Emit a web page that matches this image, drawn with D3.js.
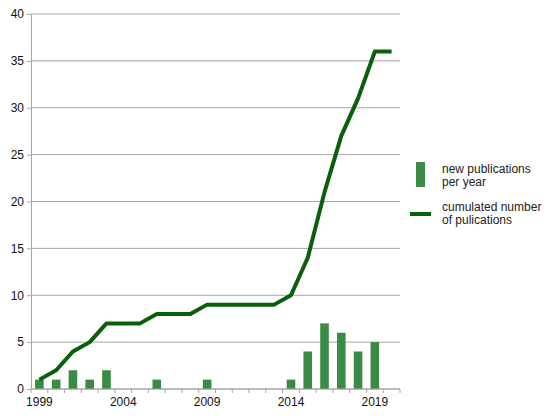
<!DOCTYPE html>
<html>
<head>
<meta charset="utf-8">
<script src="https://cdn.jsdelivr.net/npm/d3@7"></script>
<style>
  body { margin: 0; background: #fff; }
  text { font-family: "Liberation Sans", Arial, sans-serif; }
</style>
</head>
<body>
<div id="chart"></div>
<script>
const years = [1999, 2000, 2001, 2002, 2003, 2004, 2005, 2006, 2007, 2008, 2009,
  2010, 2011, 2012, 2013, 2014, 2015, 2016, 2017, 2018, 2019, 2020];
const newPerYear = [1, 1, 2, 1, 2, 0, 0, 1, 0, 0, 1, 0, 0, 0, 0, 1, 4, 7, 6, 4, 5, 0];
const cumulated = [1, 2, 4, 5, 7, 7, 7, 8, 8, 8, 9, 9, 9, 9, 9, 10, 14, 21, 27, 31, 36, 36];
const yTicks = [0, 5, 10, 15, 20, 25, 30, 35, 40];
const xLabels = [1999, 2004, 2009, 2014, 2019];
const legendLabels = [["new publications", "per year"], ["cumulated number", "of pulications"]];

const width = 550;
const height = 420;
const margin = { top: 14, right: 150, bottom: 31, left: 31 };

const svg = d3.select("#chart")
  .append("svg")
  .attr("width", width)
  .attr("height", height);

const x = d3.scaleBand()
  .domain(years)
  .range([margin.left, width - margin.right])
  .paddingInner(0.5)
  .paddingOuter(0.25);

const y = d3.scaleLinear()
  .domain([0, 40])
  .range([height - margin.bottom, margin.top]);

const step = x.step();
const bandStart = (d) => margin.left + years.indexOf(d) * step;
const center = (d) => bandStart(d) + step / 2;

// gridlines
svg.append("g")
  .selectAll("line")
  .data(yTicks)
  .enter()
  .append("line")
  .attr("x1", margin.left)
  .attr("x2", width - margin.right)
  .attr("y1", (d) => y(d))
  .attr("y2", (d) => y(d))
  .attr("stroke", "#a6a6a6")
  .attr("stroke-width", 1);

// y axis
const yAxis = svg.append("g")
  .attr("transform", `translate(${margin.left},0)`)
  .call(d3.axisLeft(y).tickValues(yTicks).tickSize(4).tickPadding(3));
yAxis.select(".domain").attr("stroke", "#a6a6a6");
yAxis.selectAll(".tick line").attr("stroke", "#a6a6a6");
yAxis.selectAll(".tick text")
  .attr("font-size", 12)
  .attr("fill", "#111")
  .style("font-family", "Liberation Sans, Arial, sans-serif");

// bars
svg.append("g")
  .selectAll("rect")
  .data(years.map((d, i) => ({ year: d, value: newPerYear[i] })).filter((d) => d.value > 0))
  .enter()
  .append("rect")
  .attr("fill", "#3b8a46")
  .attr("x", (d) => center(d.year) - 4.3)
  .attr("y", (d) => y(d.value))
  .attr("width", 8.6)
  .attr("height", (d) => y(0) - y(d.value));

// x axis
const xAxisG = svg.append("g");
xAxisG.append("line")
  .attr("x1", margin.left)
  .attr("x2", width - margin.right)
  .attr("y1", y(0))
  .attr("y2", y(0))
  .attr("stroke", "#a6a6a6");
xAxisG.selectAll(".xt")
  .data(years.concat([years[years.length - 1] + 1]))
  .enter()
  .append("line")
  .attr("x1", (d, i) => margin.left + i * step)
  .attr("x2", (d, i) => margin.left + i * step)
  .attr("y1", y(0))
  .attr("y2", y(0) + 4)
  .attr("stroke", "#a6a6a6");
xAxisG.selectAll("text")
  .data(xLabels)
  .enter()
  .append("text")
  .attr("x", (d) => center(d))
  .attr("y", y(0) + 17)
  .attr("text-anchor", "middle")
  .attr("font-size", 12)
  .attr("fill", "#111")
  .text((d) => d);

// cumulated line
const line = d3.line()
  .x((d, i) => center(years[i]))
  .y((d) => y(d));

svg.append("path")
  .datum(cumulated)
  .attr("fill", "none")
  .attr("stroke", "#0a5f0a")
  .attr("stroke-width", 4)
  .attr("stroke-linejoin", "round")
  .attr("d", line);

// legend
const legend = svg.append("g");
legend.append("rect")
  .attr("x", 416)
  .attr("y", 162)
  .attr("width", 9)
  .attr("height", 25)
  .attr("fill", "#3b8a46");
legend.append("line")
  .attr("x1", 410)
  .attr("x2", 431)
  .attr("y1", 214)
  .attr("y2", 214)
  .attr("stroke", "#0a5f0a")
  .attr("stroke-width", 4);

const legendY = [174, 212];
legendLabels.forEach((lines, k) => {
  lines.forEach((t, j) => {
    legend.append("text")
      .attr("x", 442)
      .attr("y", legendY[k] + j * 13 - 1)
      .attr("font-size", 12)
      .attr("fill", "#222")
      .text(t);
  });
});
</script>
</body>
</html>
